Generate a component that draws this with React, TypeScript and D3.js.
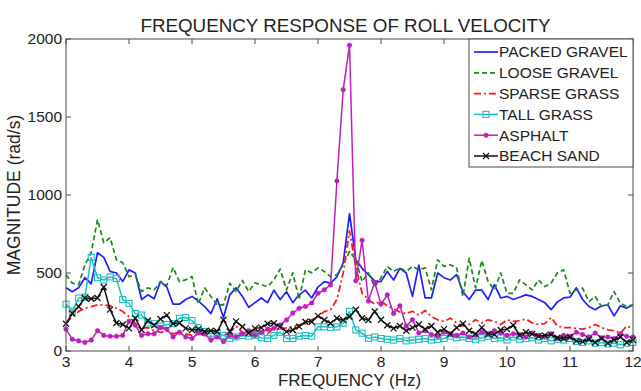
import React from "react";
import * as d3 from "d3";

const FREQ = [
  3.0, 3.1, 3.2, 3.3, 3.4, 3.5, 3.6, 3.7, 3.8, 3.9,
  4.0, 4.1, 4.2, 4.3, 4.4, 4.5, 4.6, 4.7, 4.8, 4.9,
  5.0, 5.1, 5.2, 5.3, 5.4, 5.5, 5.6, 5.7, 5.8, 5.9,
  6.0, 6.1, 6.2, 6.3, 6.4, 6.5, 6.6, 6.7, 6.8, 6.9,
  7.0, 7.1, 7.2, 7.3, 7.4, 7.5, 7.6, 7.7, 7.8, 7.9,
  8.0, 8.1, 8.2, 8.3, 8.4, 8.5, 8.6, 8.7, 8.8, 8.9,
  9.0, 9.1, 9.2, 9.3, 9.4, 9.5, 9.6, 9.7, 9.8, 9.9,
  10.0, 10.1, 10.2, 10.3, 10.4, 10.5, 10.6, 10.7, 10.8, 10.9,
  11.0, 11.1, 11.2, 11.3, 11.4, 11.5, 11.6, 11.7, 11.8, 11.9, 12.0,
];

const PACKED_GRAVEL = [
  405, 380, 405, 470, 430, 630, 600, 510, 500, 445,
  520, 500, 330, 360, 335, 445, 410, 300, 300, 330,
  350, 320, 285, 240, 335, 215, 360, 405, 350, 280,
  310, 340, 310, 390, 330, 380, 310, 360, 390, 340,
  410, 445, 435, 475, 565, 880, 585, 530, 490, 450,
  445, 510, 455, 530, 500, 350, 550, 340, 340, 500,
  470, 455, 490, 380, 330, 390, 390, 330, 425, 340,
  350, 330, 345, 360, 350, 330, 310, 265, 315, 340,
  345, 405, 330, 285, 265, 290, 295, 225, 290, 275, 295,
];

const LOOSE_GRAVEL = [
  488, 435, 425, 553, 630, 842, 694, 726, 585, 565,
  477, 488, 381, 405, 392, 445, 420, 535, 445, 456,
  477, 300, 405, 349, 296, 296, 435, 381, 452, 381,
  437, 424, 413, 456, 525, 392, 501, 330, 520, 501,
  533, 510, 477, 488, 553, 638, 585, 445, 501, 413,
  469, 542, 510, 533, 510, 542, 520, 533, 392, 585,
  542, 553, 533, 349, 595, 405, 580, 445, 392, 501,
  370, 370, 456, 424, 392, 456, 413, 435, 501, 520,
  370, 392, 403, 317, 349, 285, 296, 381, 306, 285, 296,
];

const SPARSE_GRASS = [
  180, 220, 253, 274, 285, 296, 296, 290, 274, 253,
  220, 178, 146, 150, 130, 120, 130, 110, 120, 110,
  100, 110, 100, 95, 90, 100, 120, 160, 120, 110,
  130, 120, 110, 150, 145, 148, 156, 167, 175, 200,
  220, 253, 264, 330, 500, 770, 540, 370, 330, 300,
  320, 290, 270, 250, 240, 255, 230, 260, 220, 200,
  190, 210, 180, 160, 170, 200, 180, 200, 190, 170,
  200, 190, 195, 205, 180, 170, 175, 215, 160, 150,
  150, 145, 140, 150, 170, 150, 135, 130, 115, 160, 145,
];

const TALL_GRASS = [
  300, 255, 340, 345, 600, 470, 455, 475, 465, 330,
  305, 240, 230, 180, 175, 160, 170, 175, 210, 215,
  195, 150, 125, 110, 115, 100, 80, 90, 100, 95,
  100, 85, 80, 100, 120, 80, 80, 95, 100, 95,
  155, 155, 150, 155, 178, 253, 135, 114, 81, 90,
  80, 75, 70, 80, 65, 70, 75, 80, 70, 75,
  80, 95, 85, 90, 80, 75, 85, 95, 80, 85,
  70, 90, 75, 80, 85, 70, 80, 65, 75, 70,
  80, 60, 55, 65, 50, 55, 45, 50, 40, 50, 55,
];

const ASPHALT = [
  140, 75, 65, 55, 70, 130, 100, 95, 95, 100,
  190, 165, 100, 110, 110, 150, 140, 90, 120, 90,
  80, 115, 110, 70, 90, 60, 100, 90, 110, 130,
  100, 120, 140, 146, 167, 199, 244, 274, 285, 308,
  370, 392, 424, 1090, 1675, 1960, 450, 710, 320, 440,
  300, 360, 240, 290, 160, 200, 115, 130, 105, 95,
  120, 110, 100, 115, 90, 100, 120, 110, 130, 115,
  100, 110, 105, 90, 115, 100, 95, 110, 80, 100,
  95, 120, 105, 90, 115, 85, 90, 80, 110, 95, 90,
];

const BEACH_SAND = [
  175, 240, 285, 340, 335, 340, 410, 265, 180, 170,
  145, 210, 135, 195, 165, 205, 230, 175, 180, 145,
  135, 140, 125, 130, 125, 200, 125, 190, 155, 115,
  145, 150, 175, 178, 156, 124, 135, 156, 188, 188,
  225, 199, 178, 210, 199, 220, 264, 210, 199, 253,
  200, 165, 145, 160, 130, 150, 170, 140, 160, 120,
  140, 110, 150, 175, 130, 110, 150, 110, 105, 135,
  140, 165, 100, 120, 110, 95, 100, 105, 85, 80,
  90, 65, 60, 75, 55, 80, 50, 70, 90, 55, 70,
];

const SERIES_NAMES = ["PACKED GRAVEL", "LOOSE GRAVEL", "SPARSE GRASS", "TALL GRASS", "ASPHALT", "BEACH SAND"];
const X_TICKS = [3, 4, 5, 6, 7, 8, 9, 10, 11, 12];
const Y_TICKS = [0, 500, 1000, 1500, 2000];
const TITLE = "FREQUENCY RESPONSE OF ROLL VELOCITY";
const X_LABEL = "FREQUENCY (Hz)";
const Y_LABEL = "MAGNITUDE (rad/s)";

type Style = { color: string; dash?: string; marker?: "square" | "dot" | "x"; width: number };
const STYLES: Style[] = [
  { color: "#1f1fff", width: 1.7 },
  { color: "#1a8a1a", dash: "5,3", width: 1.7 },
  { color: "#ff1a1a", dash: "7,3,2,3", width: 1.8 },
  { color: "#1fbfbf", marker: "square", width: 1.5 },
  { color: "#bf1fbf", marker: "dot", width: 1.5 },
  { color: "#111111", marker: "x", width: 1.5 },
];

const FONT = "'Liberation Sans', Arial, sans-serif";

function Marker({ kind, x, y, color }: { kind?: string; x: number; y: number; color: string }) {
  if (kind === "square") {
    return <rect x={x - 3} y={y - 3} width={6} height={6} fill="none" stroke={color} strokeWidth={1.1} />;
  }
  if (kind === "dot") {
    return <circle cx={x} cy={y} r={2.3} fill={color} stroke={color} strokeWidth={0.5} />;
  }
  if (kind === "x") {
    const s = 3;
    return (
      <path d={`M${x - s},${y - s}L${x + s},${y + s}M${x - s},${y + s}L${x + s},${y - s}`} stroke={color} strokeWidth={1.3} />
    );
  }
  return null;
}

export default function App() {
  const W = 641, H = 391;
  const left = 66, right = 633, top = 39, bottom = 351;
  const x = d3.scaleLinear().domain([3, 12]).range([left, right]);
  const y = d3.scaleLinear().domain([0, 2000]).range([bottom, top]);
  const data = [PACKED_GRAVEL, LOOSE_GRAVEL, SPARSE_GRASS, TALL_GRASS, ASPHALT, BEACH_SAND];
  const line = d3
    .line<number>()
    .x((_, i) => x(FREQ[i]))
    .y((d) => y(d));
  const axisColor = "#4a4a4a";
  const textColor = "#222";
  const tick = 5;

  const legX = 469, legY = top, legW = right - 469, legH = 128;
  const rowY = (i: number) => 52 + i * 20.8;

  return (
    <svg width={W} height={H} style={{ position: "absolute", left: 0, top: 0, background: "#fff" }} fontFamily={FONT}>
      <rect x={0} y={0} width={W} height={H} fill="#fff" />
      <text x={(left + right) / 2 - 4} y={32} textAnchor="middle" fontSize={18.8} fill={textColor}>
        {TITLE}
      </text>
      {data.map((vals, si) => {
        const st = STYLES[si];
        return (
          <g key={si}>
            <path d={line(vals) || ""} fill="none" stroke={st.color} strokeWidth={st.width} strokeDasharray={st.dash} strokeLinejoin="round" />
            {st.marker && vals.map((v, i) => <Marker key={i} kind={st.marker} x={x(FREQ[i])} y={y(v)} color={st.color} />)}
          </g>
        );
      })}
      <rect x={left} y={top} width={right - left} height={bottom - top} fill="none" stroke={axisColor} strokeWidth={1} />
      {X_TICKS.map((t) => (
        <g key={"x" + t}>
          <line x1={x(t)} x2={x(t)} y1={bottom} y2={bottom - tick} stroke={axisColor} />
          <line x1={x(t)} x2={x(t)} y1={top} y2={top + tick} stroke={axisColor} />
          <text x={x(t)} y={367} textAnchor="middle" fontSize={15.5} fill={textColor}>
            {t}
          </text>
        </g>
      ))}
      {Y_TICKS.map((t) => (
        <g key={"y" + t}>
          <line x1={left} x2={left + tick} y1={y(t)} y2={y(t)} stroke={axisColor} />
          <line x1={right} x2={right - tick} y1={y(t)} y2={y(t)} stroke={axisColor} />
          <text x={left - 4} y={y(t) + 5} textAnchor="end" fontSize={15.5} fill={textColor}>
            {t}
          </text>
        </g>
      ))}
      <text x={(left + right) / 2} y={386} textAnchor="middle" fontSize={17} fill={textColor}>
        {X_LABEL}
      </text>
      <text
        transform={`translate(20, ${(top + bottom) / 2}) rotate(-90)`}
        textAnchor="middle"
        fontSize={17.5}
        fill={textColor}
      >
        {Y_LABEL}
      </text>
      <rect x={legX} y={legY} width={legW} height={legH} fill="#fff" stroke={axisColor} strokeWidth={1} />
      {SERIES_NAMES.map((name, i) => {
        const st = STYLES[i];
        const ry = rowY(i);
        return (
          <g key={name}>
            <line x1={474} x2={498} y1={ry} y2={ry} stroke={st.color} strokeWidth={st.width} strokeDasharray={st.dash} />
            {st.marker && <Marker kind={st.marker} x={486} y={ry} color={st.color} />}
            <text x={499} y={ry + 5.4} fontSize={15.5} fill={textColor}>
              {name}
            </text>
          </g>
        );
      })}
    </svg>
  );
}
